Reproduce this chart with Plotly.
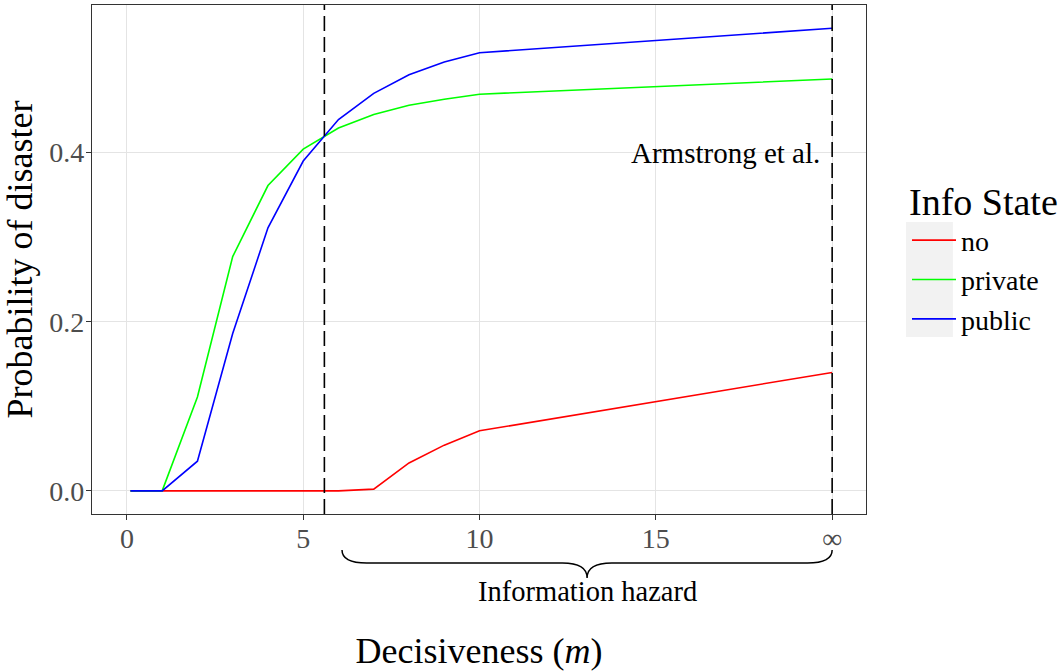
import plotly.graph_objects as go

# ---- data ----
m_values = [0.1, 1, 2, 3, 4, 5, 6, 7, 8, 9, 10, 20]
p_no = [0, 0, 0, 0, 0, 0, 0, 0.002, 0.033, 0.054, 0.071, 0.140]
p_private = [0, 0, 0.111, 0.277, 0.361, 0.404, 0.429, 0.445, 0.456, 0.463, 0.469, 0.487]
p_public = [0, 0, 0.035, 0.186, 0.311, 0.390, 0.439, 0.470, 0.492, 0.507, 0.518, 0.547]
series_names = ["no", "private", "public"]
series_colors = ["#FF0000", "#00FF00", "#0000FF"]

x_tickvals = [0, 5, 10, 15, 20]
x_ticktext = ["0", "5", "10", "15", "∞"]
y_tickvals = [0.0, 0.2, 0.4]
y_ticktext = ["0.0", "0.2", "0.4"]

vlines = [5.6, 20]
brace_start, brace_end = 6.1, 20.0

FONT = "Liberation Serif"

fig = go.Figure()
for i, (name, ys, col) in enumerate(zip(series_names, [p_no, p_private, p_public], series_colors)):
    fig.add_trace(go.Scatter(
        x=m_values, y=ys, mode="lines", name=name,
        line=dict(color=col, width=1.6), legendgroup=name,
    ))

# dashed vertical lines
for v in vlines:
    fig.add_shape(type="line", xref="x", yref="paper", x0=v, x1=v, y0=0, y1=1,
                  line=dict(color="black", width=1.6, dash="15px,6px"), layer="above")

# brace under the x axis
y0, y1, y2 = -0.0707, -0.0963, -0.1257
mid = (brace_start + brace_end) / 2
path = (f"M {brace_start},{y0} Q {brace_start},{y1} {brace_start+0.7},{y1} "
        f"L {mid-0.7},{y1} Q {mid},{y1} {mid},{y2} "
        f"Q {mid},{y1} {mid+0.7},{y1} L {brace_end-0.7},{y1} "
        f"Q {brace_end},{y1} {brace_end},{y0}")
fig.add_shape(type="path", xref="x", yref="paper", path=path,
              line=dict(color="black", width=1.5))

fig.add_annotation(x=mid, xref="x", y=-0.153, yref="paper", text="Information hazard",
                   showarrow=False, font=dict(family=FONT, size=28.5, color="black"),
                   xanchor="center", yanchor="middle")
fig.add_annotation(x=19.72, xref="x", y=0.4, yref="y", text="Armstrong et al.",
                   showarrow=False, font=dict(family=FONT, size=29, color="black"),
                   xanchor="right", yanchor="middle")

# grey background behind legend keys
fig.add_shape(type="rect", xref="paper", yref="paper",
              x0=(907-92)/775, x1=(954-92)/775, y0=(514-337)/509, y1=(514-222)/509,
              fillcolor="#f2f2f2", line=dict(width=0), layer="below")

fig.update_layout(
    width=1064, height=671,
    margin=dict(l=92, r=197, t=5, b=157),
    paper_bgcolor="white", plot_bgcolor="white",
    font=dict(family=FONT, color="black"),
    showlegend=True,
    legend=dict(
        title=dict(text="Info State", font=dict(family=FONT, size=38)),
        font=dict(family=FONT, size=28),
        x=(907-92)/775, xanchor="left", y=(514-166)/509, yanchor="top",
        bgcolor="rgba(0,0,0,0)", tracegroupgap=0, itemwidth=44,
    ),
    xaxis=dict(
        range=[-0.99, 20.96], tickvals=x_tickvals, ticktext=x_ticktext,
        showgrid=True, gridcolor="#e4e4e4", gridwidth=1.2, zeroline=False,
        showline=True, mirror=True, linecolor="#333333", linewidth=1.3,
        ticks="outside", ticklen=5, tickcolor="#333333", tickwidth=1.2,
        tickfont=dict(family=FONT, size=28, color="#4d4d4d"),
        ticklabelstandoff=-6,
        title=dict(text="Decisiveness (<i>m</i>)", font=dict(family=FONT, size=36), standoff=91),
        automargin=False,
    ),
    yaxis=dict(
        range=[-0.0274, 0.5745], tickvals=y_tickvals, ticktext=y_ticktext,
        showgrid=True, gridcolor="#e4e4e4", gridwidth=1.2, zeroline=False,
        showline=True, mirror=True, linecolor="#333333", linewidth=1.3,
        ticks="outside", ticklen=5, tickcolor="#333333", tickwidth=1.2,
        tickfont=dict(family=FONT, size=28, color="#4d4d4d"),
        ticklabelstandoff=-4,
        title=dict(text="Probability of disaster", font=dict(family=FONT, size=36), standoff=6),
        automargin=False,
    ),
)

fig.write_html("out.html", config={"displayModeBar": False},
               post_script="document.body.style.margin='0px';")
